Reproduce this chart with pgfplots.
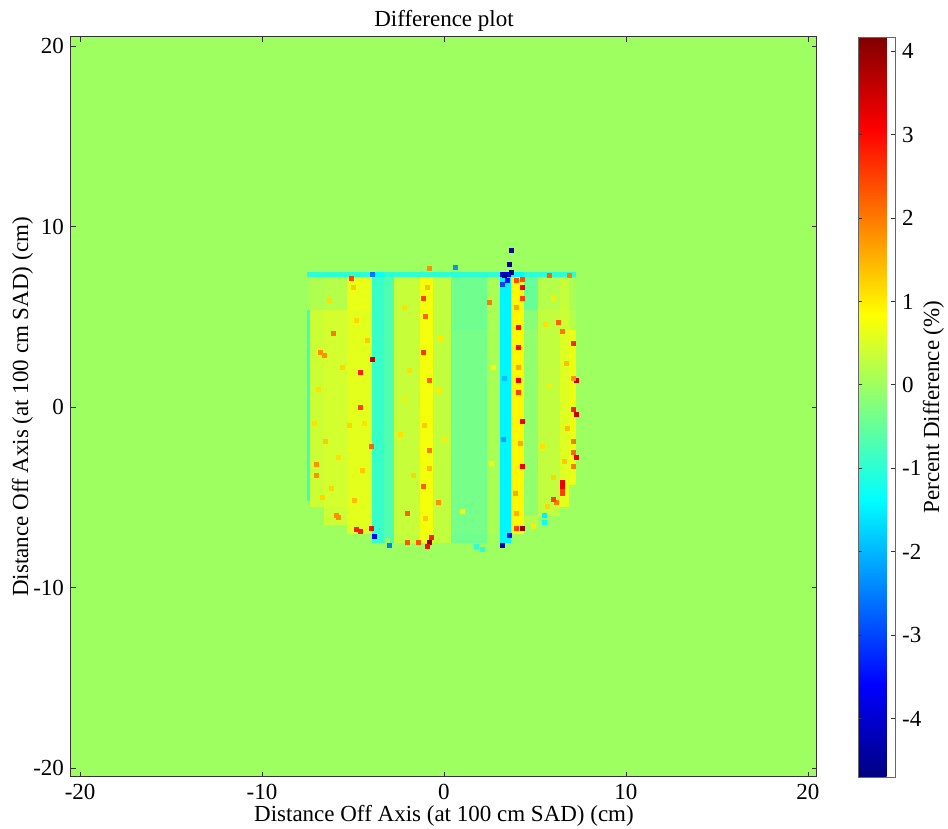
\documentclass[border=0pt]{standalone}
\usepackage{fontspec}
\setmainfont{Liberation Serif}
\usepackage{pgfplots}
\pgfplotsset{compat=1.18}
\pgfplotsset{
  /pgf/number format/assume math mode=true,
  colormap={mjet}{rgb255(0cm)=(0,0,128); rgb255(1cm)=(0,0,255); rgb255(3cm)=(0,255,255); rgb255(5cm)=(255,255,0); rgb255(7cm)=(255,0,0); rgb255(8cm)=(128,0,0)},
  every axis title/.style={at={(axis description cs:0.5,1)}, anchor=base, yshift=5.2pt},
}
\begin{document}
\begin{tikzpicture}
\useasboundingbox (-35.5pt,-26pt) rectangle (438.5pt,388.5pt);
\begin{axis}[
  at={(0,0)}, anchor=south west,
  scale only axis, width=373pt, height=370pt,
  font=\fontsize{11.5}{13.8}\selectfont,
  xmin=-20.5, xmax=20.5, ymin=-20.5, ymax=20.5,
  xtick={-20,-10,0,10,20}, ytick={-20,-10,0,10,20},
  tick align=inside, major tick length=2.5pt,
  tick style={black!80, line width=0.4pt},
  axis line style={black!80, line width=0.5pt},
  title={Difference plot},
  xlabel={Distance Off Axis (at 100 cm SAD) (cm)},
  xlabel style={at={(axis description cs:0.5,0)}, anchor=base, yshift=-22.5pt},
  ylabel={Distance Off Axis (at 100 cm SAD) (cm)},
  ylabel style={at={(axis description cs:-0.0576,0.5)}, anchor=base, rotate=0},
  colormap name=mjet,
  point meta min=-4.7, point meta max=4.17,
  colorbar,
  colorbar style={
    at={(parent axis.north east)}, anchor=north west, xshift=12pt,
    width=18.5pt,
    ytick={-4,-3,-2,-1,0,1,2,3,4},
    tick align=inside, major tick length=2pt,
    font=\fontsize{11.5}{13.8}\selectfont,
    ylabel={Percent Difference (\%)},
    ylabel style={at={(axis description cs:2.19,0.5)}, anchor=base, rotate=0},
    axis line style={black!60},
  },
  axis on top,
]
% cell values: vertex (x_i, y_j) colours the cell to its upper right
\addplot[surf, shader=flat corner, mesh/cols=20, point meta=explicit]
 table[meta=c, row sep=\\] {
x y c \\
-20.5 -20.5 0 \\ -7.5 -20.5 0 \\ -7.35 -20.5 0 \\ -6.6 -20.5 0 \\ -5.3 -20.5 0 \\ -3.95 -20.5 0 \\ -3.3 -20.5 0 \\ -2.7 -20.5 0 \\ -1.3 -20.5 0 \\ -0.6 -20.5 0 \\ 0.4 -20.5 0 \\ 2.4 -20.5 0 \\ 3.1 -20.5 0 \\ 3.7 -20.5 0 \\ 4.4 -20.5 0 \\ 5.2 -20.5 0 \\ 6.4 -20.5 0 \\ 6.9 -20.5 0 \\ 7.3 -20.5 0 \\ 20.5 -20.5 0 \\
-20.5 -7.5 0 \\ -7.5 -7.5 0 \\ -7.35 -7.5 0 \\ -6.6 -7.5 0 \\ -5.3 -7.5 0 \\ -3.95 -7.5 -0.9 \\ -3.3 -7.5 -0.7 \\ -2.7 -7.5 0.3 \\ -1.3 -7.5 0.7 \\ -0.6 -7.5 0.3 \\ 0.4 -7.5 -0.4 \\ 2.4 -7.5 0.05 \\ 3.1 -7.5 -1.45 \\ 3.7 -7.5 0 \\ 4.4 -7.5 0 \\ 5.2 -7.5 0 \\ 6.4 -7.5 0 \\ 6.9 -7.5 0 \\ 7.3 -7.5 0 \\ 20.5 -7.5 0 \\
-20.5 -7.0 0 \\ -7.5 -7.0 0 \\ -7.35 -7.0 0 \\ -6.6 -7.0 0 \\ -5.3 -7.0 0.55 \\ -3.95 -7.0 -0.9 \\ -3.3 -7.0 -0.7 \\ -2.7 -7.0 0.35 \\ -1.3 -7.0 0.75 \\ -0.6 -7.0 0.3 \\ 0.4 -7.0 -0.35 \\ 2.4 -7.0 0.1 \\ 3.1 -7.0 -1.45 \\ 3.7 -7.0 0.85 \\ 4.4 -7.0 0 \\ 5.2 -7.0 0 \\ 6.4 -7.0 0 \\ 6.9 -7.0 0 \\ 7.3 -7.0 0 \\ 20.5 -7.0 0 \\
-20.5 -6.5 0 \\ -7.5 -6.5 0 \\ -7.35 -6.5 0 \\ -6.6 -6.5 0.4 \\ -5.3 -6.5 0.6 \\ -3.95 -6.5 -0.9 \\ -3.3 -6.5 -0.7 \\ -2.7 -6.5 0.35 \\ -1.3 -6.5 0.75 \\ -0.6 -6.5 0.3 \\ 0.4 -6.5 -0.35 \\ 2.4 -6.5 0.1 \\ 3.1 -6.5 -1.45 \\ 3.7 -6.5 0.9 \\ 4.4 -6.5 0.2 \\ 5.2 -6.5 0 \\ 6.4 -6.5 0 \\ 6.9 -6.5 0 \\ 7.3 -6.5 0 \\ 20.5 -6.5 0 \\
-20.5 -6.0 0 \\ -7.5 -6.0 0 \\ -7.35 -6.0 0 \\ -6.6 -6.0 0.4 \\ -5.3 -6.0 0.6 \\ -3.95 -6.0 -0.9 \\ -3.3 -6.0 -0.7 \\ -2.7 -6.0 0.35 \\ -1.3 -6.0 0.75 \\ -0.6 -6.0 0.3 \\ 0.4 -6.0 -0.35 \\ 2.4 -6.0 0.1 \\ 3.1 -6.0 -1.45 \\ 3.7 -6.0 0.9 \\ 4.4 -6.0 -0.1 \\ 5.2 -6.0 0.3 \\ 6.4 -6.0 0 \\ 6.9 -6.0 0 \\ 7.3 -6.0 0 \\ 20.5 -6.0 0 \\
-20.5 -5.5 0 \\ -7.5 -5.5 0 \\ -7.35 -5.5 0.4 \\ -6.6 -5.5 0.45 \\ -5.3 -5.5 0.6 \\ -3.95 -5.5 -0.9 \\ -3.3 -5.5 -0.7 \\ -2.7 -5.5 0.35 \\ -1.3 -5.5 0.75 \\ -0.6 -5.5 0.3 \\ 0.4 -5.5 -0.35 \\ 2.4 -5.5 0.1 \\ 3.1 -5.5 -1.45 \\ 3.7 -5.5 0.9 \\ 4.4 -5.5 -0.1 \\ 5.2 -5.5 0.3 \\ 6.4 -5.5 0.6 \\ 6.9 -5.5 0 \\ 7.3 -5.5 0 \\ 20.5 -5.5 0 \\
-20.5 -5.2 0 \\ -7.5 -5.2 -0.9 \\ -7.35 -5.2 0.4 \\ -6.6 -5.2 0.45 \\ -5.3 -5.2 0.6 \\ -3.95 -5.2 -0.9 \\ -3.3 -5.2 -0.7 \\ -2.7 -5.2 0.35 \\ -1.3 -5.2 0.75 \\ -0.6 -5.2 0.3 \\ 0.4 -5.2 -0.35 \\ 2.4 -5.2 0.1 \\ 3.1 -5.2 -1.45 \\ 3.7 -5.2 0.9 \\ 4.4 -5.2 -0.1 \\ 5.2 -5.2 0.3 \\ 6.4 -5.2 0.6 \\ 6.9 -5.2 0 \\ 7.3 -5.2 0 \\ 20.5 -5.2 0 \\
-20.5 -4.3 0 \\ -7.5 -4.3 -0.9 \\ -7.35 -4.3 0.4 \\ -6.6 -4.3 0.45 \\ -5.3 -4.3 0.6 \\ -3.95 -4.3 -0.9 \\ -3.3 -4.3 -0.7 \\ -2.7 -4.3 0.35 \\ -1.3 -4.3 0.75 \\ -0.6 -4.3 0.3 \\ 0.4 -4.3 -0.35 \\ 2.4 -4.3 0.1 \\ 3.1 -4.3 -1.45 \\ 3.7 -4.3 0.9 \\ 4.4 -4.3 -0.1 \\ 5.2 -4.3 0.3 \\ 6.4 -4.3 0.55 \\ 6.9 -4.3 0.7 \\ 7.3 -4.3 0 \\ 20.5 -4.3 0 \\
-20.5 4.3 0 \\ -7.5 4.3 -0.9 \\ -7.35 4.3 0.4 \\ -6.6 4.3 0.45 \\ -5.3 4.3 0.6 \\ -3.95 4.3 -0.9 \\ -3.3 4.3 -0.7 \\ -2.7 4.3 0.35 \\ -1.3 4.3 0.75 \\ -0.6 4.3 0.3 \\ 0.4 4.3 -0.4 \\ 2.4 4.3 0.1 \\ 3.1 4.3 -1.45 \\ 3.7 4.3 0.9 \\ 4.4 4.3 -0.2 \\ 5.2 4.3 0.3 \\ 6.4 4.3 0.4 \\ 6.9 4.3 0.2 \\ 7.3 4.3 0 \\ 20.5 4.3 0 \\
-20.5 5.4 0 \\ -7.5 5.4 0.05 \\ -7.35 5.4 0.15 \\ -6.6 5.4 0.2 \\ -5.3 5.4 0.65 \\ -3.95 5.4 -0.9 \\ -3.3 5.4 -0.7 \\ -2.7 5.4 0.35 \\ -1.3 5.4 0.75 \\ -0.6 5.4 0.3 \\ 0.4 5.4 -0.4 \\ 2.4 5.4 0.1 \\ 3.1 5.4 -1.45 \\ 3.7 5.4 0.9 \\ 4.4 5.4 -0.5 \\ 5.2 5.4 0.2 \\ 6.4 5.4 0.35 \\ 6.9 5.4 0.1 \\ 7.3 5.4 0 \\ 20.5 5.4 0 \\
-20.5 7.25 0 \\ -7.5 7.25 -1.0 \\ -7.35 7.25 -1.0 \\ -6.6 7.25 -1.0 \\ -5.3 7.25 -1.0 \\ -3.95 7.25 -1.3 \\ -3.3 7.25 -1.0 \\ -2.7 7.25 -1.0 \\ -1.3 7.25 -1.0 \\ -0.6 7.25 -1.0 \\ 0.4 7.25 -1.0 \\ 2.4 7.25 -1.0 \\ 3.1 7.25 -3.8 \\ 3.7 7.25 -1.4 \\ 4.4 7.25 -1.0 \\ 5.2 7.25 -1.0 \\ 6.4 7.25 -1.0 \\ 6.9 7.25 -1.0 \\ 7.3 7.25 0 \\ 20.5 7.25 0 \\
-20.5 7.5 0 \\ -7.5 7.5 0 \\ -7.35 7.5 0 \\ -6.6 7.5 0 \\ -5.3 7.5 0 \\ -3.95 7.5 0 \\ -3.3 7.5 0 \\ -2.7 7.5 0 \\ -1.3 7.5 0 \\ -0.6 7.5 0 \\ 0.4 7.5 0 \\ 2.4 7.5 0 \\ 3.1 7.5 0 \\ 3.7 7.5 0 \\ 4.4 7.5 0 \\ 5.2 7.5 0 \\ 6.4 7.5 0 \\ 6.9 7.5 0 \\ 7.3 7.5 0 \\ 20.5 7.5 0 \\
-20.5 20.5 0 \\ -7.5 20.5 0 \\ -7.35 20.5 0 \\ -6.6 20.5 0 \\ -5.3 20.5 0 \\ -3.95 20.5 0 \\ -3.3 20.5 0 \\ -2.7 20.5 0 \\ -1.3 20.5 0 \\ -0.6 20.5 0 \\ 0.4 20.5 0 \\ 2.4 20.5 0 \\ 3.1 20.5 0 \\ 3.7 20.5 0 \\ 4.4 20.5 0 \\ 5.2 20.5 0 \\ 6.4 20.5 0 \\ 6.9 20.5 0 \\ 7.3 20.5 0 \\ 20.5 20.5 0 \\
};
% yellow speckle texture
\addplot[scatter, only marks, mark=square*, mark size=1pt, point meta=explicit,
  scatter/use mapped color={draw=mapped color, fill=mapped color}]
 table[meta=c, row sep=\\] {
x y c \\
-6.5 -1.9 1.3 \\ -7.1 -0.9 1.1 \\ -4.9 -5.2 1.4 \\ -4.2 3.7 1.3 \\ -5.0 6.6 1.3 \\
-6.3 5.9 1.1 \\ -5.6 2.2 1.2 \\ -6.9 1.0 1.1 \\ -5.2 -1.0 1.2 \\ -6.2 -4.5 1.2 \\
-4.5 -3.5 1.3 \\ -4.8 4.8 1.2 \\ -5.8 -2.8 1.1 \\ -6.7 -5.0 1.2 \\ -4.4 -0.9 1.1 \\
-2.2 5.5 1.1 \\ -1.9 2.0 1.1 \\ -2.4 -1.5 1.1 \\ -1.7 -3.8 1.2 \\ -2.1 0.4 1.0 \\
-0.9 6.6 1.4 \\ -1.1 -1.0 1.3 \\ -0.8 -3.4 1.4 \\ -1.0 -6.2 1.3 \\ -0.2 3.8 1.0 \\
0.0 -1.8 1.0 \\ -0.3 0.9 1.0 \\ 2.7 2.2 0.9 \\ 2.6 -3.1 0.9 \\ 1.0 -5.8 0.8 \\
4.0 5.5 1.6 \\ 4.1 2.2 1.6 \\ 4.2 -2.0 1.6 \\ 3.9 -4.8 1.6 \\ 4.0 -5.9 1.5 \\
4.0 7.0 2.4 \\ 4.3 7.05 2.4 \\ 5.6 4.6 1.1 \\ 5.8 1.2 1.0 \\ 5.4 -2.2 1.1 \\
6.0 -3.9 1.2 \\ 6.7 2.4 1.4 \\ 6.8 -1.2 1.4 \\ 6.6 -3.0 1.3 \\ 6.0 6.0 1.0 \\
4.9 -6.6 1.0 \\ 5.7 -5.5 1.2 \\ -3.1 -7.4 0.0 \\
};
% isolated hot and cold pixels
\addplot[scatter, only marks, mark=square*, mark size=1pt, point meta=explicit,
  scatter/use mapped color={draw=mapped color, fill=mapped color}]
 table[meta=c, row sep=\\] {
x y c \\
-3.95 2.65 3.6 \\ -4.6 1.9 2.8 \\ -4.6 0.0 2.5 \\ -4.0 -2.2 2.2 \\ -5.1 7.1 2.5 \\
-6.1 4.1 2.0 \\ -6.8 3.0 1.8 \\ -6.6 2.85 1.8 \\ -7.0 -3.2 1.8 \\ -7.0 -3.8 1.8 \\
-1.15 6.0 2.5 \\ -1.15 3.0 2.6 \\ -1.0 5.0 2.2 \\ -0.8 1.5 2.2 \\ -0.8 -2.4 2.0 \\
-1.15 -4.4 2.2 \\ -0.3 -5.3 1.8 \\ -2.0 -5.9 2.2 \\ -0.8 7.7 1.8 \\ -5.8 -6.1 1.8 \\
3.6 7.9 -4.5 \\ 3.7 8.7 -4.3 \\ 0.6 7.75 -2.3 \\ 3.3 7.3 -4.5 \\ 3.5 7.0 -3.5 \\
3.2 6.8 -3.0 \\ 3.7 7.45 -4.6 \\ 4.3 6.6 3.2 \\ 4.3 6.0 2.5 \\ 4.1 4.4 3.0 \\
4.1 3.3 3.0 \\ 4.1 1.5 3.2 \\ 4.3 -0.8 3.2 \\ 4.3 -3.3 3.2 \\ 4.1 0.8 2.5 \\
2.5 5.8 2.0 \\ 7.3 1.5 3.5 \\ 7.3 -0.4 3.5 \\ 7.3 -2.8 3.2 \\ 7.1 3.5 2.7 \\
7.1 -0.15 2.8 \\ 6.5 -4.2 3.2 \\ 6.5 -4.4 3.2 \\ 6.5 -4.7 2.5 \\ 6.2 -5.3 2.0 \\
6.3 4.7 2.2 \\ 6.5 4.2 2.0 \\ 7.1 1.6 1.8 \\ 7.1 -1.9 2.0 \\ 7.1 -2.5 2.2 \\
7.1 -3.3 2.0 \\ 5.8 7.3 2.2 \\ 6.9 7.3 2.0 \\ 6.5 -4.8 2.5 \\
3.25 -1.8 -2.2 \\ 3.3 1.6 -1.9 \\ 4.3 -6.7 4.0 \\ 4.0 -6.7 2.5 \\ 3.6 -7.1 -3.5 \\
3.2 -7.65 -4.3 \\ 6.0 -5.1 2.5 \\ 5.5 -6.0 -1.5 \\ 5.5 -6.4 -1.3 \\ 2.1 -7.9 -1.0 \\
1.8 -7.75 -1.0 \\ -4.8 -6.8 2.8 \\ -4.6 -6.9 2.8 \\ -4.0 -6.7 3.0 \\ -3.85 -7.15 -3.5 \\
-3.0 -7.65 -2.5 \\ -2.0 -7.5 2.3 \\ -1.4 -7.5 2.3 \\ -0.8 -7.5 4.0 \\ -0.9 -7.7 3.0 \\
-0.7 -7.2 2.8 \\ -5.9 -6.0 1.8 \\ -3.95 7.35 -2.6 \\
};
\end{axis}
\end{tikzpicture}
\end{document}
